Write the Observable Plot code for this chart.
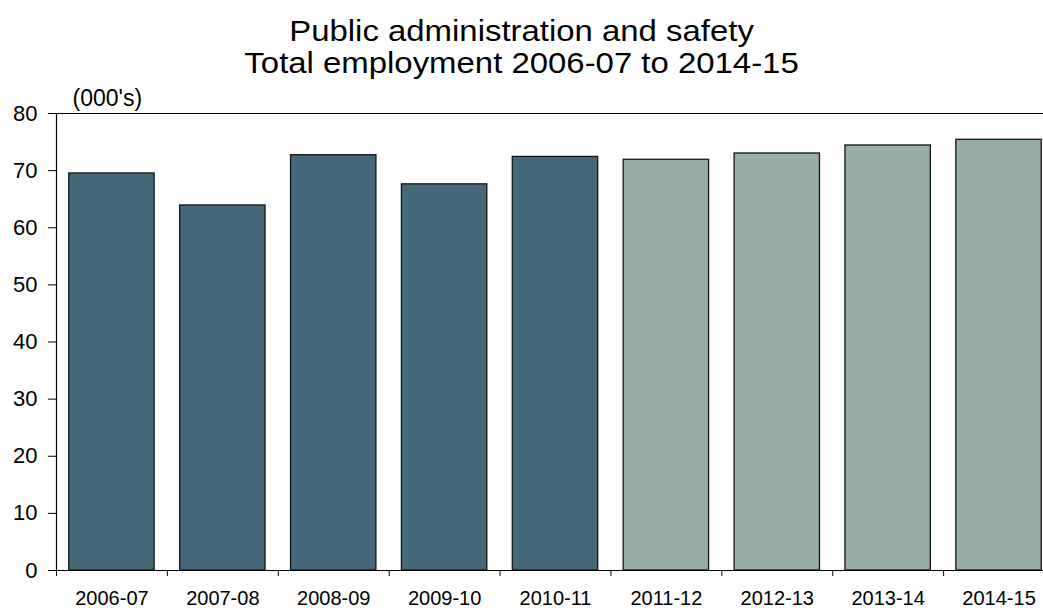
<!DOCTYPE html>
<html><head><meta charset="utf-8">
<script src="https://cdn.jsdelivr.net/npm/d3@7"></script>
<script src="https://cdn.jsdelivr.net/npm/@observablehq/plot@0.6"></script>
<style>
html,body{margin:0;padding:0;background:#fff;overflow:hidden;}
#title{font-family:"Liberation Sans",Arial,sans-serif;font-size:30px;line-height:32px;text-align:center;padding-top:15px;height:65px;color:#000;transform:scaleX(1.097);transform-origin:521px 0;}
#chart svg{overflow:hidden;display:block;}
</style></head><body>
<div id="title"></div>
<div id="chart"></div>
<script>
const titleLines = ["Public administration and safety", "Total employment 2006-07 to 2014-15"];
const years = ["2006-07","2007-08","2008-09","2009-10","2010-11","2011-12","2012-13","2013-14","2014-15"];
const employment = [69.5, 63.9, 72.7, 67.6, 72.4, 71.9, 73.0, 74.4, 75.4];
const series = ["Actual","Actual","Actual","Actual","Actual","Projected","Projected","Projected","Projected"];
const seriesNames = ["Actual","Projected"];
const seriesColors = ["#46687B","#97ADA6"];
const yTicks = [0,10,20,30,40,50,60,70,80];
const unitLabel = "(000's)";

const t = document.getElementById("title");
titleLines.forEach(s => { const d = document.createElement("div"); d.textContent = s; t.appendChild(d); });

const width = 1043, height = 530;
const marginLeft = 56, marginRight = -11;
const step = (width - marginRight - marginLeft) / years.length;
const data = years.map((y, i) => ({year: y, value: employment[i], series: series[i]}));

const chart = Plot.plot({
  width, height,
  marginTop: 33, marginBottom: 40, marginLeft, marginRight,
  style: {fontFamily: "'Liberation Sans', Arial, sans-serif", fontSize: "20px", color: "#000", background: "#fff"},
  x: {type: "band", domain: years, paddingInner: 0.23, paddingOuter: 0.115, align: 0.5, round: false, label: null},
  y: {domain: [0, 80], label: null},
  color: {domain: seriesNames, range: seriesColors},
  marks: [
    Plot.barY(data, {x: "year", y: "value", fill: "series", stroke: "#151515", strokeWidth: 1.3}),
    Plot.ruleY([0, 80], {stroke: "#000", strokeWidth: 1.2, insetLeft: -8}),
    Plot.ruleX([years[0]], {dx: -step / 2, stroke: "#000", strokeWidth: 1.2}),
    Plot.axisY(yTicks, {tickSize: 8, tickPadding: 11, fontSize: 22, label: null, stroke: "#000"}),
    Plot.axisX({tickSize: 6, dx: -step / 2, tickFormat: () => "", label: null, stroke: "#000"}),
    Plot.axisX({tickSize: 0, tickPadding: 20, fontSize: 20, label: null}),
    Plot.text([unitLabel], {frameAnchor: "top-left", dx: 16, dy: -8, lineAnchor: "bottom", textAnchor: "start", fontSize: 23, fill: "#000"})
  ]
});
document.getElementById("chart").appendChild(chart);
</script>
</body></html>
